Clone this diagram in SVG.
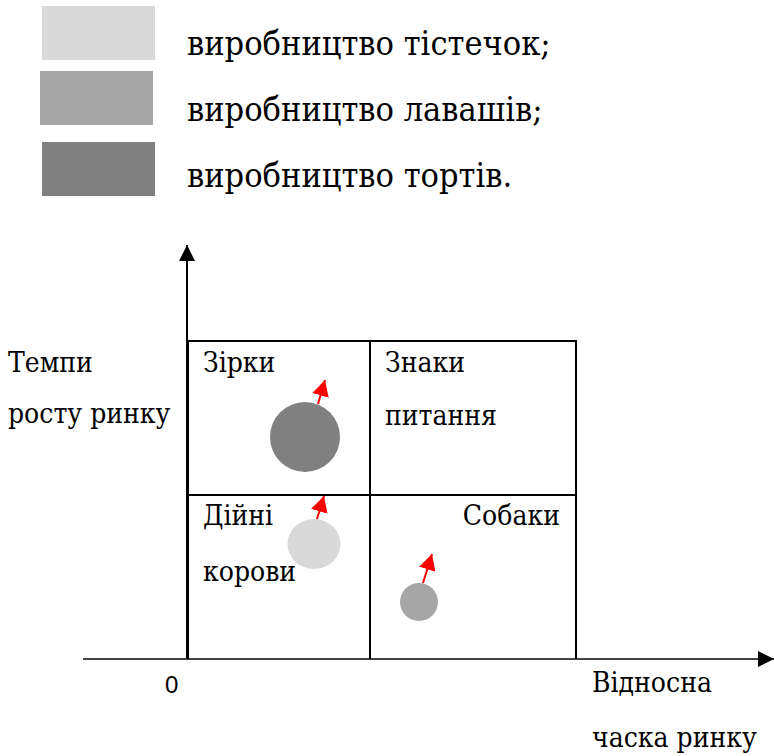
<svg xmlns="http://www.w3.org/2000/svg" width="774" height="756" viewBox="0 0 774 756">
  <style>
    text { font-family: 'DejaVu Serif Condensed', 'DejaVu Serif', serif; font-stretch: condensed; font-size: 28px; fill: #000; }
    text.leg { font-size: 34px; }
    text.zero { font-family: 'Liberation Sans', sans-serif; font-stretch: normal; font-size: 24px; }
    .grid { stroke: #000; stroke-width: 2; fill: none; }
    .axis { stroke: #000; stroke-width: 2; fill: none; }
    .axis-x { stroke: #444; stroke-width: 2; fill: none; }
    .move { stroke: #ff0000; stroke-width: 2; fill: none; }
  </style>
  <defs>
    <marker id="axis-head" markerUnits="userSpaceOnUse" markerWidth="16" markerHeight="16" viewBox="0 0 16 16" refX="16" refY="8" orient="auto">
      <path d="M0,0 L16,8 L0,16 Z" fill="#000"/>
    </marker>
    <marker id="move-head" markerUnits="userSpaceOnUse" markerWidth="16" markerHeight="17" viewBox="0 0 16 17" refX="16" refY="8.5" orient="auto">
      <path d="M0,0 L16,8.5 L0,17 Z" fill="#ff0000"/>
    </marker>
  </defs>

  <!-- legend -->
  <g id="legend">
    <g id="legend-pastry">
      <rect x="42" y="6" width="113" height="54" fill="#d9d9d9"/>
      <text class="leg" x="187" y="55">виробництво тістечок;</text>
    </g>
    <g id="legend-lavash">
      <rect x="40" y="71" width="113" height="54" fill="#a6a6a6"/>
      <text class="leg" x="187" y="121">виробництво лавашів;</text>
    </g>
    <g id="legend-cakes">
      <rect x="42" y="142" width="113" height="54" fill="#808080"/>
      <text class="leg" x="187" y="187">виробництво тортів.</text>
    </g>
  </g>

  <!-- axes -->
  <g id="axes">
    <line class="axis" x1="187" y1="660" x2="187" y2="245" marker-end="url(#axis-head)"/>
    <line class="axis-x" x1="83" y1="659" x2="774" y2="659" marker-end="url(#axis-head)"/>
    <text x="8" y="372">Темпи</text>
    <text x="8" y="423">росту ринку</text>
    <text class="zero" x="165" y="693">0</text>
    <text x="592" y="692">Відносна</text>
    <text x="592" y="747">часка ринку</text>
  </g>

  <!-- matrix grid -->
  <g id="matrix">
    <path class="grid" d="M188,341 H576 V659 M188,341 V659 M370,341 V659 M188,495 H576"/>
    <text x="203" y="372">Зірки</text>
    <text x="385" y="372">Знаки</text>
    <text x="385" y="425">питання</text>
    <text x="203" y="525">Дійні</text>
    <text x="203" y="581">корови</text>
    <text x="560" y="525" text-anchor="end">Собаки</text>
  </g>

  <!-- product circles -->
  <g id="cakes">
    <circle cx="305" cy="437" r="35" fill="#808080"/>
  </g>
  <g id="pastry">
    <ellipse cx="314" cy="544" rx="26.5" ry="25" fill="#d9d9d9"/>
  </g>
  <g id="lavash">
    <circle cx="419" cy="602" r="19" fill="#a6a6a6"/>
  </g>

  <!-- movement arrows -->
  <g id="connectors">
    <line class="move" x1="318" y1="404" x2="325" y2="380" marker-end="url(#move-head)"/>
    <line class="move" x1="317" y1="519" x2="324" y2="496" marker-end="url(#move-head)"/>
    <line class="move" x1="423" y1="583" x2="432" y2="554" marker-end="url(#move-head)"/>
  </g>
</svg>
